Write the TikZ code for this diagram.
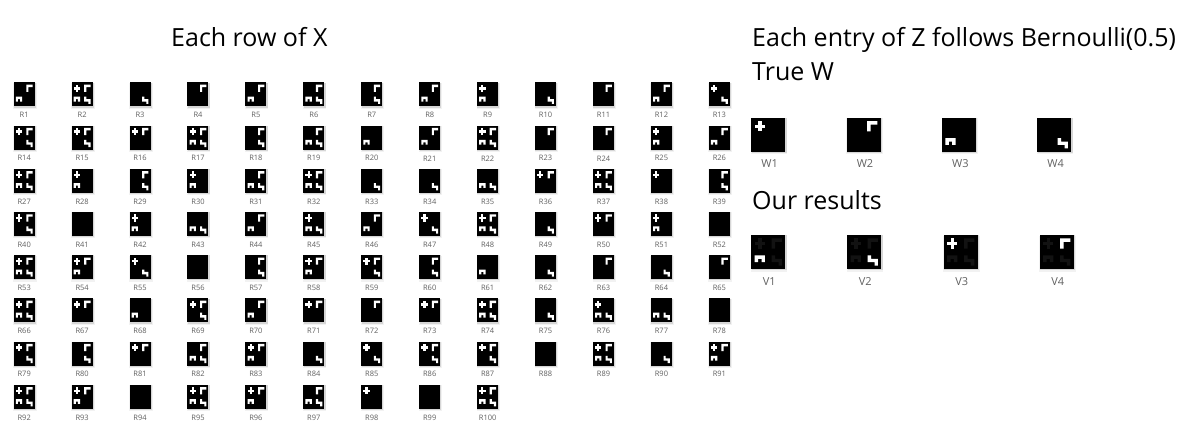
\documentclass[tikz,border=0pt]{standalone}
\usepackage{fontspec}
\setmainfont{Open Sans}
\tikzset{
  title/.style={anchor=base west,inner sep=0pt,font=\fontsize{25}{29}\selectfont,text=black},
  smalllabel/.style={inner sep=0pt,font=\fontsize{7.5}{9}\selectfont,text=black!62},
  biglabel/.style={inner sep=0pt,font=\fontsize{11}{13}\selectfont,text=black!62},
  tilebox/.style={fill=black,draw=none}
}
\newcommand{\crossfeat}[1]{\fill[#1] (\tx+2*\cw,\ty+1*\ch) rectangle (\tx+3*\cw,\ty+4*\ch);\fill[#1] (\tx+1*\cw,\ty+2*\ch) rectangle (\tx+4*\cw,\ty+3*\ch);}
\newcommand{\cornerfeat}[1]{\fill[#1] (\tx+6*\cw,\ty+1*\ch) -- (\tx+9*\cw,\ty+1*\ch) -- (\tx+9*\cw,\ty+2*\ch) -- (\tx+7*\cw,\ty+2*\ch) -- (\tx+7*\cw,\ty+4*\ch) -- (\tx+6*\cw,\ty+4*\ch) -- cycle;}
\newcommand{\archfeat}[1]{\fill[#1] (\tx+1*\cw,\ty+6*\ch) -- (\tx+4*\cw,\ty+6*\ch) -- (\tx+4*\cw,\ty+8*\ch) -- (\tx+3*\cw,\ty+8*\ch) -- (\tx+3*\cw,\ty+7*\ch) -- (\tx+2*\cw,\ty+7*\ch) -- (\tx+2*\cw,\ty+8*\ch) -- (\tx+1*\cw,\ty+8*\ch) -- cycle;}
\newcommand{\squigfeat}[1]{\fill[#1] (\tx+6*\cw,\ty+6*\ch) -- (\tx+7*\cw,\ty+6*\ch) -- (\tx+7*\cw,\ty+7*\ch) -- (\tx+9*\cw,\ty+7*\ch) -- (\tx+9*\cw,\ty+9*\ch) -- (\tx+8*\cw,\ty+9*\ch) -- (\tx+8*\cw,\ty+8*\ch) -- (\tx+6*\cw,\ty+8*\ch) -- cycle;}
\newcommand{\tileback}[2]{%
  \fill[black!5] (\tx,\ty) ++(-0.5,0.5) rectangle ++(#1+2.5,#2+2);
  \fill[black!16] (\tx,\ty) ++(0.3,0.3) rectangle ++(#1+0.9,#2+0.9);
  \fill[black] (\tx,\ty) rectangle ++(#1,#2);}
\newcommand{\onbits}[4]{%
  \ifnum#1=1 \crossfeat{white}\fi
  \ifnum#2=1 \cornerfeat{white}\fi
  \ifnum#3=1 \archfeat{white}\fi
  \ifnum#4=1 \squigfeat{white}\fi}
\begin{document}
\begin{tikzpicture}[x=1pt,y=-1pt]
\useasboundingbox (0,0) rectangle (1185,436);
\fill[white] (0,0) rectangle (1185,436);
\node[title] (tx) at (171,47) {Each row of X};
\node[title] (tz) at (752,47) {Each entry of Z follows Bernoulli(0.5)};
\node[title] (tw) at (752,81) {True W};
\node[title] (to) at (752,209) {Our results};
\def\cw{2.1}\def\ch{2.4}
\foreach \n/\code in {1/0110,2/1111,3/0001,4/0100,5/0110,6/0111,7/0101,8/0110,9/1010,10/0001,11/0100,12/0110,13/1001,
14/1101,15/1101,16/1100,17/1111,18/0101,19/0111,20/0010,21/0110,22/1111,23/0100,24/0100,25/1010,26/0110,
27/1111,28/1010,29/0101,30/1010,31/0111,32/1111,33/0001,34/0001,35/0011,36/1100,37/1111,38/1000,39/0101,
40/1101,41/0000,42/1010,43/0011,44/0110,45/1011,46/0110,47/1001,48/1111,49/0001,50/1100,51/1010,52/0000,
53/1111,54/1110,55/1001,56/0000,57/0101,58/1110,59/1101,60/0101,61/0010,62/0001,63/0100,64/0001,65/0100,
66/1111,67/1100,68/0010,69/1101,70/0110,71/1100,72/0100,73/1100,74/1111,75/0001,76/1011,77/0011,78/0000,
79/1101,80/0101,81/1100,82/0111,83/1110,84/0001,85/1001,86/1101,87/1101,88/0000,89/1111,90/0001,91/1110,
92/1111,93/1110,94/0000,95/1111,96/1110,97/0111,98/1000,99/0000,100/1111}{
  \pgfmathtruncatemacro{\col}{mod(\n-1,13)}
  \pgfmathtruncatemacro{\row}{(\n-1-\col)/13}
  \pgfmathsetmacro{\tx}{13.7+57.93*\col}
  \pgfmathsetmacro{\ty}{82.3+43.2*\row}
  \tileback{21}{24}
  \expandafter\onbits\code
  \node[smalllabel] (r\n) at (\tx+10.5,\ty+32.8) {R\n};
}
\def\cw{3.4}\def\ch{3.4}
\foreach \n/\px/\code in {1/751.3/1000,2/846.7/0100,3/942/0010,4/1037.3/0001}{
  \def\tx{\px}\def\ty{117.7}
  \tileback{34}{34}
  \expandafter\onbits\code
  \node[biglabel] (w\n) at (\tx+18.3,\ty+46) {W\n};
}
\foreach \n/\px/\code in {1/751.3/0010,2/847.3/0001,3/943.7/1000,4/1039.7/0100}{
  \def\tx{\px}\def\ty{235}
  \tileback{34}{34}
  \crossfeat{black!93}\cornerfeat{black!93}\archfeat{black!93}\squigfeat{black!93}
  \expandafter\onbits\code
  \node[biglabel] (v\n) at (\tx+18,\ty+46.5) {V\n};
}
\end{tikzpicture}
\end{document}
